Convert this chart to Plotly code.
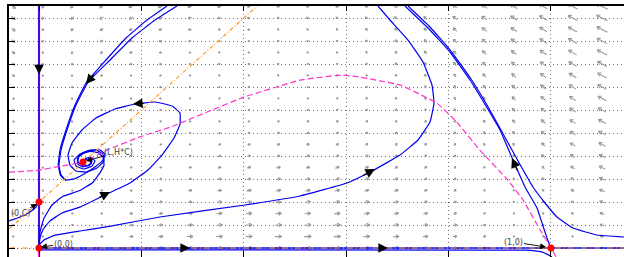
import numpy as np
import plotly.graph_objects as go

# ---------------- window ----------------
X_RANGE = [-0.0586, 1.1426]
Y_RANGE = [-0.0391, 1.0522]
W, H = 624, 257
ML, MR, MT, MB = 9, 0, 6, 0

# ---------------- model (parameters) ----------------
Q, A, B = 0.482, 0.164, 0.62      # prey equation
S, C, K = 0.13, 0.2, 2.0          # predator equation

# ---------------- equilibria ----------------
eq_x = [0.0, 0.0, 0.0859, 1.0]
eq_y = [0.0, 0.2, 0.3739, 0.0]

# ---------------- nullclines ----------------
pred_null_x = [-0.0586, 0.4261]
pred_null_y = [0.0828, 1.0522]
pred_null0_x = [-0.0586, 1.1426]
pred_null0_y = [0.0, 0.0]
prey_null0_x = [0.0, 0.0]
prey_null0_y = [-0.0391, 1.0522]
prey_null_x = [-0.0586, -0.03, 0.0, 0.04, 0.0859, 0.133, 0.197, 0.256, 0.30, 0.40, 0.51,
               0.59, 0.627, 0.705, 0.777, 0.816, 0.861, 0.914, 0.945, 0.979, 1.0, 1.01]
prey_null_y = [0.33, 0.333, 0.339, 0.355, 0.3739, 0.426, 0.483, 0.525, 0.565, 0.656, 0.73,
               0.752, 0.743, 0.709, 0.63, 0.548, 0.426, 0.30, 0.21, 0.078, 0.0, -0.039]

# ---------------- trajectories ----------------
traj = {}
traj["axis_y"] = ([0.0, 0.0], [1.0522, 0.0])
traj["axis_x"] = ([0.0, 1.1426], [0.0, 0.0])
traj["below"] = ([0.0, 0.95, 0.98, 0.995, 1.002], [-0.008, -0.009, -0.016, -0.03, -0.039])
traj["top_a"] = ([0.2695, 0.2266, 0.1816, 0.1387, 0.0957, 0.0723, 0.0547, 0.043, 0.039, 0.043,
                  0.0527, 0.0684, 0.0879, 0.1094, 0.125, 0.1289, 0.1191, 0.0996, 0.0801, 0.0684,
                  0.0723, 0.0879, 0.1035, 0.1094, 0.0996, 0.0879, 0.0859],
                 [1.0522, 0.9913, 0.913, 0.8174, 0.7217, 0.6217, 0.513, 0.426, 0.361, 0.317,
                  0.2957, 0.30, 0.3217, 0.3522, 0.3826, 0.4087, 0.426, 0.426, 0.4087, 0.3826,
                  0.3565, 0.3435, 0.3565, 0.3783, 0.3957, 0.3826, 0.3739])
traj["top_b"] = ([0.25, 0.211, 0.17, 0.1309, 0.0918, 0.0703, 0.0527, 0.041, 0.0375, 0.042, 0.0527],
                 [1.0522, 0.9913, 0.913, 0.8174, 0.7174, 0.6217, 0.513, 0.426, 0.361, 0.315, 0.2935])
traj["loop"] = ([0.0, 0.002, 0.0078, 0.0215, 0.0449, 0.0801, 0.1328, 0.1777, 0.2129, 0.2402,
                 0.2637, 0.2754, 0.2754, 0.2598, 0.2266, 0.1875, 0.1484, 0.1113, 0.084, 0.0645,
                 0.0566, 0.0605, 0.0723, 0.0918, 0.1133, 0.127, 0.125, 0.1113, 0.0938, 0.0781,
                 0.0762, 0.0879, 0.1016, 0.1035, 0.0918, 0.0859],
                [0.0087, 0.0435, 0.08, 0.118, 0.152, 0.178, 0.2348, 0.2826, 0.3391, 0.4043,
                 0.4783, 0.5391, 0.587, 0.6174, 0.6348, 0.6261, 0.6043, 0.5652, 0.513, 0.4565,
                 0.4043, 0.3609, 0.3348, 0.3304, 0.3478, 0.3783, 0.4087, 0.426, 0.4217, 0.40,
                 0.3739, 0.3565, 0.3652, 0.387, 0.3913, 0.3739])
traj["steep"] = ([0.0, 0.002, 0.0098, 0.0254, 0.0469, 0.08, 0.105, 0.12, 0.127, 0.125, 0.115,
                  0.10, 0.085, 0.075, 0.076, 0.085, 0.098, 0.102, 0.093, 0.0859],
                 [0.017, 0.07, 0.13, 0.187, 0.225, 0.25, 0.285, 0.33, 0.36, 0.395, 0.415,
                  0.42, 0.41, 0.39, 0.365, 0.353, 0.36, 0.378, 0.387, 0.3739])
traj["long"] = ([0.0, 0.0098, 0.03, 0.08, 0.14, 0.2363, 0.4023, 0.5098, 0.6016, 0.6504,
                 0.7051, 0.7402, 0.7637, 0.7715, 0.7676, 0.75, 0.7207, 0.6855, 0.6621],
                [0.013, 0.035, 0.055, 0.074, 0.095, 0.1348, 0.187, 0.2261, 0.2826, 0.3348,
                 0.4043, 0.4696, 0.5478, 0.6304, 0.7087, 0.8087, 0.9043, 0.9913, 1.0522])
traj["unstable"] = ([0.998, 0.9922, 0.9844, 0.9727, 0.9492, 0.9258, 0.9004, 0.873, 0.8418,
                     0.8027, 0.7598, 0.7148],
                    [0.0087, 0.0435, 0.0957, 0.1739, 0.2652, 0.3826, 0.513, 0.6174, 0.7304,
                     0.8522, 0.9565, 1.0522])
traj["right"] = ([1.1426, 1.0898, 1.043, 1.0117, 0.9883, 0.9648, 0.9434, 0.9238, 0.9023, 0.875,
                  0.8438, 0.8047, 0.7637, 0.7207],
                 [0.0478, 0.0565, 0.087, 0.1348, 0.1957, 0.2652, 0.3478, 0.4261, 0.513, 0.6217,
                  0.7348, 0.8565, 0.9609, 1.0522])
traj["left"] = ([-0.0586, -0.0371, -0.0176, -0.0059, 0.0],
                [0.1174, 0.1348, 0.1565, 0.1783, 0.20])

# direction arrows on trajectories: (tail_x, tail_y, head_x, head_y)
traj_arrows = [
    (0.0, 0.80, 0.0, 0.755),
    (0.1094, 0.7609, 0.0918, 0.713),
    (0.207, 0.6304, 0.1836, 0.626),
    (0.1152, 0.2174, 0.1387, 0.2435),
    (0.6309, 0.313, 0.6563, 0.3435),
    (0.9355, 0.3304, 0.9238, 0.3913),
    (0.2754, 0.0, 0.2949, 0.0),
    (0.6621, 0.0, 0.6816, 0.0),
]

# equilibrium labels: (text, text_x, text_y, point_x, point_y)
eq_labels = [
    ("(0,0)", 0.0469, 0.0174, 0.0039, 0.0043),
    ("(0,C)", -0.0352, 0.1522, -0.0039, 0.1913),
    ("(L,H*C)", 0.1543, 0.4174, 0.0918, 0.3783),
    ("(1,0)", 0.9277, 0.0261, 0.9902, 0.0043),
]

# direction field grid
field_x = [X_RANGE[0] + 0.0085 + 0.0575 * i for i in range(21)]
field_y = [0.05 * j for j in range(22)]

# ---------------- figure ----------------
fig = go.Figure()
pw = W - ML - MR
ph = H - MT - MB
sx = pw / (X_RANGE[1] - X_RANGE[0])
sy = ph / (Y_RANGE[1] - Y_RANGE[0])


def field(x, y):
    u = x * (1 - x) - Q * x * y / (A + B * x + x * x)
    v = S * y * (C + K * x - y)
    return u, v


fx, fy = [], []
GAIN, LMAX = 30.0, 13.0
for xv in field_x:
    for yv in field_y:
        u, v = field(xv, yv)
        m = np.hypot(u, v)
        if m < 1e-9:
            continue
        L = min(LMAX, max(2.0, GAIN * m))
        ux, uy = u / m, v / m
        hx, hy = 0.5 * L * ux, 0.5 * L * uy
        x0, y0 = xv - hx / sx, yv - hy / sy
        x1, y1 = xv + hx / sx, yv + hy / sy
        fx += [x0, x1, None]
        fy += [y0, y1, None]
        hl = min(3.8, 0.45 * L + 0.8)
        for ang in (np.radians(150), np.radians(-150)):
            ca, sa = np.cos(ang), np.sin(ang)
            bx = ux * ca - uy * sa
            by = ux * sa + uy * ca
            fx += [x1, x1 + hl * bx / sx, None]
            fy += [y1, y1 + hl * by / sy, None]

fig.add_trace(go.Scatter(x=fx, y=fy, mode="lines", line=dict(color="#979797", width=1.05),
                         hoverinfo="skip", showlegend=False))

# prey nullcline x = 0 (beneath the trajectory on the axis)
fig.add_trace(go.Scatter(x=prey_null0_x, y=prey_null0_y, mode="lines",
                         line=dict(color="#ff33cc", width=2.2), showlegend=False, hoverinfo="skip"))

BLUE = "#0000ee"
for name, (xs, ys) in traj.items():
    w = 1.5 if name in ("axis_y", "axis_x") else 1.2
    fig.add_trace(go.Scatter(x=xs, y=ys, mode="lines",
                             line=dict(color=BLUE, width=w, shape="spline", smoothing=0.3),
                             hoverinfo="skip", showlegend=False))

# nullclines
fig.add_trace(go.Scatter(x=prey_null_x, y=prey_null_y, mode="lines",
                         line=dict(color="#ff33cc", width=1.2, dash="6px,3px", shape="spline",
                                   smoothing=0.3),
                         showlegend=False, hoverinfo="skip"))
fig.add_trace(go.Scatter(x=pred_null_x, y=pred_null_y, mode="lines",
                         line=dict(color="#ff9a2a", width=1.2, dash="4px,2px,1px,2px"),
                         showlegend=False, hoverinfo="skip"))
fig.add_trace(go.Scatter(x=pred_null0_x, y=pred_null0_y, mode="lines",
                         line=dict(color="#ff9a2a", width=1.2, dash="6px,3px,1px,3px"),
                         showlegend=False, hoverinfo="skip"))

fig.add_trace(go.Scatter(x=eq_x, y=eq_y, mode="markers",
                         marker=dict(color="#ff0000", size=7), showlegend=False, hoverinfo="skip"))

ann = []
for tx, ty, hx_, hy_ in traj_arrows:
    ann.append(dict(x=hx_, y=hy_, ax=tx, ay=ty, xref="x", yref="y", axref="x", ayref="y",
                    text="", showarrow=True, arrowhead=2, arrowsize=1.6, arrowwidth=1.2,
                    arrowcolor="black"))
for t, tx, ty, px_, py_ in eq_labels:
    ann.append(dict(x=px_, y=py_, ax=tx, ay=ty, xref="x", yref="y", axref="x", ayref="y",
                    text=t, showarrow=True, arrowhead=2, arrowsize=1.3, arrowwidth=0.9,
                    arrowcolor="black", font=dict(size=8, color="#444", family="DejaVu Sans"),
                    borderpad=0))

fig.update_layout(
    width=W, height=H, margin=dict(l=ML, r=MR, t=MT, b=MB, autoexpand=False),
    paper_bgcolor="white", plot_bgcolor="white",
    annotations=ann,
    xaxis=dict(range=X_RANGE, showgrid=True, gridcolor="#707070", griddash="1px,3px", gridwidth=1,
               dtick=0.2, tick0=0, zeroline=False, showline=False, ticks="inside", ticklen=6,
               tickcolor="black", showticklabels=False, automargin=False),
    xaxis2=dict(range=X_RANGE, overlaying="x", side="top", showgrid=False, dtick=0.2, tick0=0,
                zeroline=False, showline=True, linecolor="black", linewidth=1.5, ticks="inside",
                ticklen=5, tickcolor="black", showticklabels=False, automargin=False),
    yaxis=dict(range=Y_RANGE, showgrid=True, gridcolor="#707070", griddash="1px,3px", gridwidth=1,
               dtick=0.1, tick0=0, zeroline=False, showline=True, linecolor="black", linewidth=1.5,
               ticks="inside", ticklen=6, tickcolor="black", showticklabels=False, automargin=False),
)
fig.add_trace(go.Scatter(x=[None], y=[None], xaxis="x2", showlegend=False))
fig.write_html("out.html", config={"displayModeBar": False},
               post_script="document.body.style.margin='0px';document.body.style.overflow='hidden';")
